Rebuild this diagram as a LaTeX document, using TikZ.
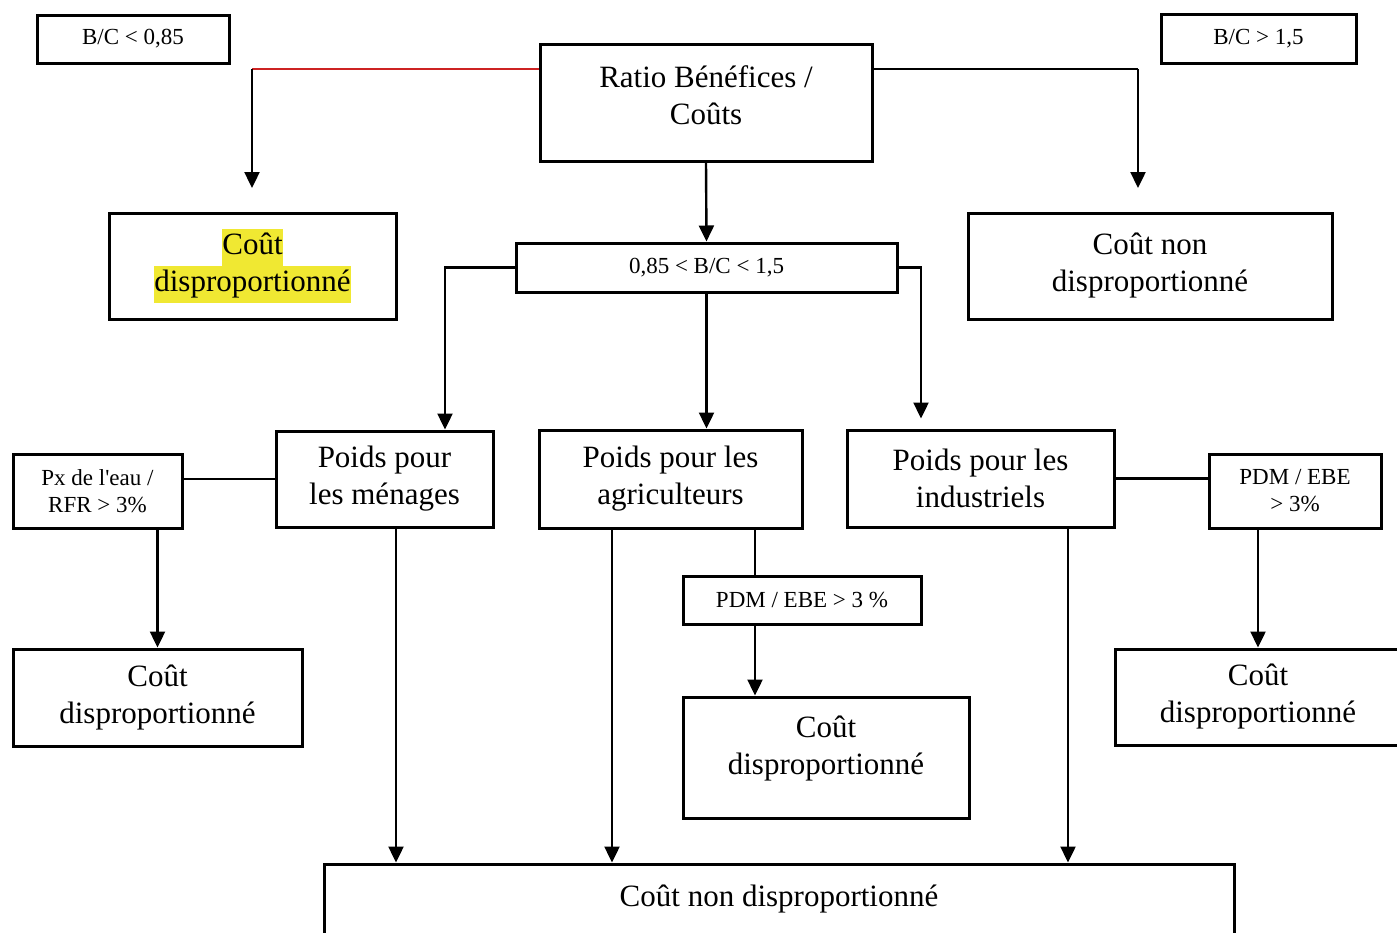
\documentclass[tikz,border=0pt]{standalone}
\usepackage{fontspec}
\setmainfont{Liberation Serif}
\usetikzlibrary{arrows.meta,calc}
\definecolor{hl}{RGB}{240,232,50}
\definecolor{redline}{RGB}{205,35,35}
\newcommand{\bigtxt}{\fontsize{15.5}{18.5}\selectfont}
\newcommand{\smalltxt}{\fontsize{11.5}{13.5}\selectfont}
\newcommand{\hlw}[1]{{\setlength{\fboxsep}{0pt}\colorbox{hl}{\strut #1}}}
\begin{document}
\begin{tikzpicture}[x=0.5pt,y=-0.5pt,
  box/.style={draw, line width=1.5pt, inner sep=0pt, align=center},
  bigbox/.style={box, font=\bigtxt},
  smallbox/.style={box, font=\smalltxt},
  txt/.style={inner sep=0pt, align=center, font=\bigtxt},
  conn/.style={line width=1.2pt},
  arr/.style={conn, -{Triangle[length=8pt,width=7.5pt]}}]
\useasboundingbox[fill=white] (0,0) rectangle (1397,932);

% boxes
\node[smallbox, minimum width=96pt, minimum height=24pt] (bc1) at (133,39) {B/C < 0,85};
\node[box, minimum width=166pt, minimum height=58.5pt] (ratio) at (706,102.5) {};
\node[txt] (ratiot) at (706,95) {Ratio Bénéfices /\\Coûts};
\node[smallbox, minimum width=97.5pt, minimum height=24.5pt] (bc2) at (1258.5,38.5) {B/C > 1,5};
\node[bigbox, minimum width=143.5pt, minimum height=53pt] (cd1) at (252.5,266) {\hlw{Coût}\\\hlw{disproportionné}};
\node[bigbox, minimum width=182pt, minimum height=53pt] (cnd1) at (1150,266) {Coût non\\disproportionné};
\node[smallbox, minimum width=190.5pt, minimum height=24.5pt] (mid) at (706.5,267.5) {0,85 < B/C < 1,5};
\node[bigbox, minimum width=108.5pt, minimum height=48pt] (men) at (384.5,479) {Poids pour\\les ménages};
\node[bigbox, minimum width=131.5pt, minimum height=49pt] (agr) at (670.5,479) {Poids pour les\\agriculteurs};
\node[bigbox, minimum width=133.5pt, minimum height=48.5pt] (ind) at (980.5,478.5) {Poids pour les\\industriels};
\node[smallbox, minimum width=84.5pt, minimum height=37pt] (px) at (97.5,491) {Px de l\textquotesingle eau /\\RFR > 3\%};
\node[smallbox, minimum width=119pt, minimum height=24pt] (pdm1) at (802,600) {PDM / EBE > 3 \%};
\node[smallbox, minimum width=86pt, minimum height=37pt] (pdm2) at (1295,491) {PDM / EBE\\> 3\%};
\node[bigbox, minimum width=144.5pt, minimum height=48.5pt] (cd2) at (157.5,697.5) {Coût\\disproportionné};
\node[box, minimum width=143pt, minimum height=60.5pt] (cd3) at (826,757.5) {};
\node[txt] (cd3t) at (826,749) {Coût\\disproportionné};
\node[bigbox, minimum width=143pt, minimum height=48pt] (cd4) at (1258,697) {Coût\\disproportionné};
\node[bigbox, minimum width=455pt, minimum height=35pt] (bot) at (779,899) {Coût non disproportionné};

% helper coordinates
\coordinate (lt) at (252,69);
\coordinate (aL) at (252,188);
\coordinate (rt) at (1138,69);
\coordinate (aR) at (1138,188);
\coordinate (mx) at (445,0);
\coordinate (ix) at (921,0);
\coordinate (c1) at (396,0);
\coordinate (c2) at (612,0);
\coordinate (c3) at (755,0);
\coordinate (c4) at (1068,0);

% connectors
\draw[conn, redline] (ratio.west |- lt) -- (lt);
\draw[arr] (lt) -- (aL);
\draw[conn] (ratio.east |- rt) -- (rt);
\draw[arr] (rt) -- (aR);
\draw[arr] (ratio.south) -- (mid.north);
\draw[arr] (mid.west) -| (mx |- men.north);
\draw[arr] (mid.south) -- (mid.south |- agr.north);
\draw[arr, shorten >=5pt] (mid.east) -| (ix |- ind.north);
\draw[conn] (men.west) -- (men.west -| px.east);
\draw[arr] (cd2.north |- px.south) -- (cd2.north);
\draw[arr] (c1 |- men.south) -- (c1 |- bot.north);
\draw[arr] (c2 |- agr.south) -- (c2 |- bot.north);
\draw[conn] (c3 |- agr.south) -- (c3 |- pdm1.north);
\draw[arr] (c3 |- pdm1.south) -- (c3 |- cd3.north);
\draw[conn] (ind.east) -- (ind.east -| pdm2.west);
\draw[arr] (cd4.north |- pdm2.south) -- (cd4.north);
\draw[arr] (c4 |- ind.south) -- (c4 |- bot.north);
\end{tikzpicture}
\end{document}
